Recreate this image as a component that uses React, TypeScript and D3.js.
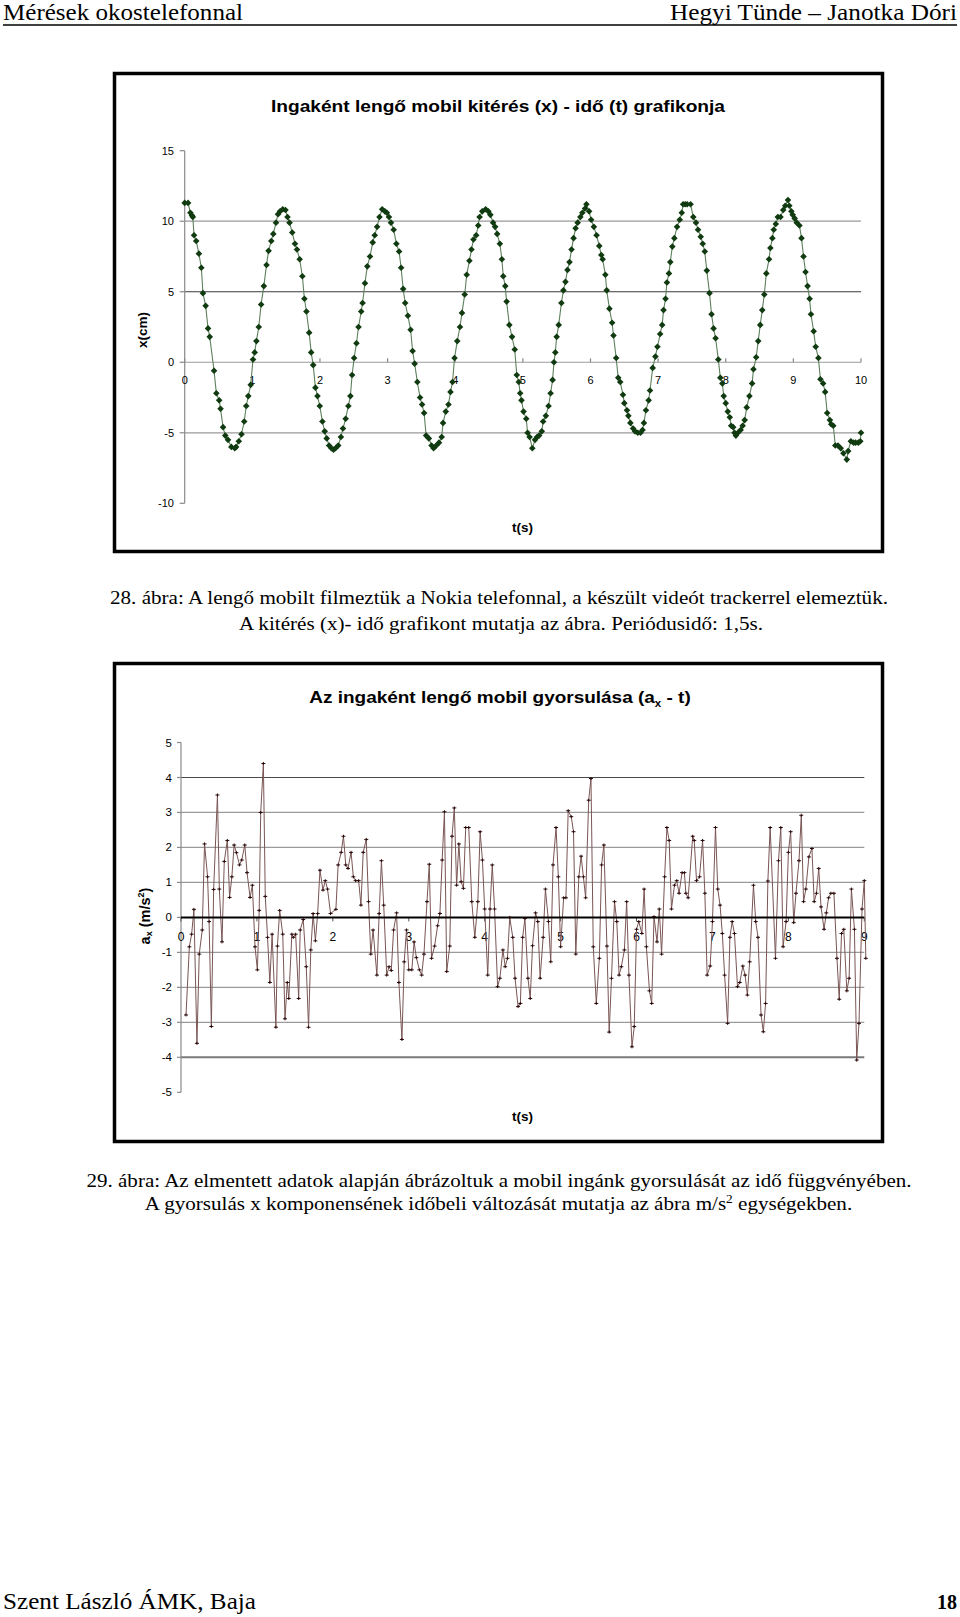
import React from 'react';
import * as d3 from 'd3';

// ---- Chart 1: displacement x (cm) vs time t (s) ----
const positionData: [number, number][] = [
  [0,11.3],[0.05,11.3],[0.084,10.6],[0.108,10.4],[0.12,10.3],[0.138,9.0],[0.17,8.6],[0.21,7.7],[0.246,6.7],[0.27,4.9],
  [0.31,4.0],[0.345,2.4],[0.37,1.8],[0.434,-0.6],[0.468,-2.2],[0.51,-2.7],[0.53,-3.3],[0.567,-4.6],[0.6,-5.2],[0.64,-5.5],
  [0.69,-6.0],[0.74,-6.1],[0.76,-6.0],[0.8,-5.6],[0.84,-5.1],[0.88,-4.2],[0.91,-3.1],[0.94,-2.4],[0.976,-1.6],[1.01,0.2],
  [1.035,0.7],[1.06,1.5],[1.095,2.5],[1.13,4.1],[1.17,5.4],[1.21,6.9],[1.24,7.9],[1.28,8.6],[1.31,9.1],[1.35,9.9],
  [1.38,10.5],[1.41,10.7],[1.45,10.85],[1.49,10.8],[1.52,10.3],[1.55,9.9],[1.59,9.2],[1.63,8.4],[1.66,8.0],[1.7,7.3],
  [1.74,6.1],[1.77,4.5],[1.8,3.6],[1.84,2.1],[1.87,0.7],[1.9,-0.2],[1.933,-1.8],[1.963,-2.4],[1.997,-3.1],[2.036,-4.2],
  [2.07,-4.9],[2.1,-5.4],[2.135,-5.9],[2.17,-6.1],[2.2,-6.2],[2.23,-6.1],[2.27,-5.9],[2.31,-5.3],[2.34,-4.7],[2.38,-4.0],
  [2.42,-3.1],[2.45,-2.4],[2.475,-0.9],[2.505,0.3],[2.54,1.35],[2.57,2.5],[2.61,3.6],[2.63,4.2],[2.665,5.6],[2.7,6.8],
  [2.74,7.5],[2.78,8.5],[2.81,9.0],[2.845,9.6],[2.88,10.3],[2.92,10.85],[2.96,10.7],[2.99,10.6],[3.02,10.3],[3.05,9.9],
  [3.09,9.4],[3.13,8.4],[3.17,7.85],[3.2,6.7],[3.23,5.2],[3.26,4.2],[3.3,3.3],[3.34,2.3],[3.37,0.8],[3.4,-0.1],
  [3.44,-1.4],[3.48,-2.5],[3.51,-3.0],[3.54,-3.6],[3.57,-5.2],[3.61,-5.4],[3.65,-5.9],[3.68,-6.1],[3.72,-5.9],[3.76,-5.7],
  [3.8,-5.3],[3.82,-4.3],[3.86,-3.5],[3.9,-3.0],[3.93,-2.1],[3.96,-1.4],[3.99,0.3],[4.03,1.5],[4.07,2.5],[4.1,3.5],
  [4.14,4.8],[4.17,6.2],[4.21,7.2],[4.24,8.0],[4.27,8.7],[4.31,9.0],[4.34,9.7],[4.36,10.3],[4.4,10.7],[4.45,10.85],
  [4.49,10.7],[4.52,10.45],[4.56,9.9],[4.59,9.6],[4.62,9.1],[4.66,8.4],[4.69,7.3],[4.71,6.1],[4.74,5.4],[4.76,4.3],
  [4.8,2.65],[4.84,1.8],[4.88,0.9],[4.91,-0.9],[4.94,-1.4],[4.96,-2.2],[4.98,-2.7],[5.01,-3.5],[5.05,-4.0],[5.07,-5.0],
  [5.1,-5.3],[5.14,-6.1],[5.18,-5.5],[5.21,-5.3],[5.24,-5.2],[5.28,-4.9],[5.3,-4.2],[5.34,-3.8],[5.38,-3.1],[5.41,-2.2],
  [5.44,-1.25],[5.46,0.0],[5.48,0.7],[5.5,1.8],[5.53,2.65],[5.57,4.2],[5.6,5.1],[5.63,5.7],[5.66,6.55],[5.69,7.1],
  [5.72,8.0],[5.75,8.8],[5.78,9.5],[5.81,9.9],[5.85,10.3],[5.88,10.6],[5.92,10.9],[5.94,11.2],[5.98,10.7],[6.01,10.1],
  [6.05,9.6],[6.09,9.0],[6.13,8.25],[6.16,7.6],[6.18,7.3],[6.22,6.2],[6.24,5.1],[6.28,3.8],[6.32,2.8],[6.34,1.9],
  [6.38,0.3],[6.41,-1.1],[6.44,-1.4],[6.48,-2.3],[6.5,-2.9],[6.54,-3.4],[6.56,-3.8],[6.59,-4.3],[6.63,-4.7],[6.66,-4.9],
  [6.7,-5.0],[6.74,-5.0],[6.77,-4.8],[6.79,-4.3],[6.82,-3.4],[6.86,-2.7],[6.88,-2.0],[6.92,-0.4],[6.96,0.4],[6.99,1.1],
  [7.03,2.0],[7.06,2.65],[7.08,3.7],[7.11,4.5],[7.13,5.65],[7.16,6.3],[7.18,7.1],[7.21,8.2],[7.24,8.8],[7.28,9.6],
  [7.32,10.1],[7.35,10.6],[7.37,11.2],[7.4,11.2],[7.43,11.2],[7.48,11.2],[7.52,10.3],[7.56,9.9],[7.59,9.4],[7.63,8.9],
  [7.66,8.4],[7.69,7.85],[7.72,6.5],[7.76,4.9],[7.79,3.4],[7.82,2.4],[7.85,1.7],[7.89,0.2],[7.92,-1.1],[7.95,-1.5],
  [7.97,-2.4],[8.0,-2.9],[8.03,-3.5],[8.06,-3.9],[8.08,-4.5],[8.11,-4.6],[8.13,-5.0],[8.15,-5.2],[8.18,-5.0],[8.22,-4.8],
  [8.25,-4.5],[8.28,-4.1],[8.31,-3.2],[8.35,-2.4],[8.39,-1.5],[8.41,-0.5],[8.45,0.35],[8.48,1.5],[8.51,2.65],[8.54,3.7],
  [8.57,4.8],[8.6,6.3],[8.64,7.3],[8.66,8.1],[8.69,8.8],[8.71,9.4],[8.74,9.8],[8.77,10.3],[8.81,10.3],[8.85,10.8],
  [8.88,11.1],[8.92,11.5],[8.94,11.1],[8.97,10.7],[8.99,10.45],[9.02,10.2],[9.05,9.9],[9.09,9.7],[9.12,8.8],[9.15,7.5],
  [9.18,6.4],[9.21,5.4],[9.24,4.5],[9.26,3.4],[9.3,2.2],[9.33,1.1],[9.37,0.3],[9.4,-1.2],[9.44,-1.5],[9.47,-2.1],
  [9.5,-3.6],[9.54,-4.1],[9.56,-4.4],[9.59,-4.5],[9.62,-5.9],[9.66,-5.9],[9.7,-6.1],[9.74,-6.45],[9.79,-6.9],[9.81,-6.3],
  [9.85,-5.6],[9.89,-5.7],[9.92,-5.7],[9.96,-5.7],[9.99,-5.6],[10.0,-5.0]
];
const positionYTicks = [15, 10, 5, 0, -5, -10];
const positionXTicks = [0, 1, 2, 3, 4, 5, 6, 7, 8, 9, 10];
const positionGrid = [10, 5, 0, -5];

// ---- Chart 2: acceleration a_x (m/s^2) vs time t (s) ----
const accelData: [number, number][] = [
  [0.066,-2.79],[0.11,-0.84],[0.14,-0.48],[0.17,0.23],[0.21,-3.6],[0.24,-1.05],[0.28,-0.36],[0.31,2.1],[0.35,1.16],[0.37,-0.12],
  [0.4,-3.12],[0.43,0.8],[0.48,3.5],[0.505,0.81],[0.54,-0.7],[0.57,1.6],[0.61,2.2],[0.64,0.57],[0.67,1.16],[0.7,2.07],
  [0.73,1.85],[0.77,1.5],[0.8,1.64],[0.84,2.07],[0.87,1.28],[0.91,0.57],[0.94,0.92],[0.975,-0.84],[1.006,-1.5],[1.03,0.2],
  [1.05,3.0],[1.085,4.4],[1.11,0.6],[1.14,-0.57],[1.17,-1.86],[1.2,-0.48],[1.25,-3.14],[1.27,-0.82],[1.3,0.2],[1.34,-0.48],
  [1.37,-2.9],[1.4,-1.86],[1.42,-2.32],[1.46,-0.48],[1.48,-0.57],[1.51,-0.48],[1.55,-2.32],[1.57,-0.36],[1.61,-0.06],[1.65,-1.41],
  [1.68,-3.14],[1.71,-0.93],[1.74,0.11],[1.77,-0.67],[1.8,0.11],[1.83,1.35],[1.87,0.78],[1.9,1.05],[1.93,0.81],[1.97,0.11],
  [2.04,0.23],[2.07,1.5],[2.11,1.86],[2.14,2.32],[2.17,1.5],[2.2,1.4],[2.24,1.86],[2.27,1.16],[2.3,1.05],[2.34,1.05],
  [2.37,0.35],[2.4,1.86],[2.44,2.23],[2.47,0.45],[2.5,-1.05],[2.53,-0.36],[2.58,-1.65],[2.61,0.11],[2.64,1.62],[2.67,0.35],
  [2.71,-1.65],[2.74,-1.41],[2.77,-1.52],[2.8,-0.36],[2.84,0.13],[2.87,-1.86],[2.91,-3.49],[2.94,-1.27],[2.97,-0.36],[3.0,-1.5],
  [3.04,-1.5],[3.07,-0.7],[3.1,-1.15],[3.14,-1.5],[3.17,-1.65],[3.2,-1.05],[3.24,0.45],[3.27,1.52],[3.3,-1.17],[3.34,-0.82],
  [3.38,-0.24],[3.41,0.11],[3.44,1.64],[3.47,3.02],[3.5,-1.55],[3.54,-0.82],[3.57,2.32],[3.6,3.13],[3.63,0.92],[3.66,2.1],
  [3.69,1.02],[3.72,0.83],[3.75,2.57],[3.79,2.57],[3.83,0.45],[3.87,-0.57],[3.91,0.45],[3.94,2.45],[3.97,1.64],[4.0,0.24],
  [4.04,-1.65],[4.07,0.24],[4.1,1.5],[4.13,0.24],[4.17,-1.98],[4.2,-1.74],[4.24,-0.93],[4.27,-1.41],[4.3,-1.17],[4.33,0.0],
  [4.37,-0.57],[4.4,-1.74],[4.44,-2.55],[4.47,-2.46],[4.5,-0.57],[4.53,-0.03],[4.57,-1.74],[4.6,-2.32],[4.63,-0.81],[4.67,0.13],
  [4.7,-0.12],[4.73,-1.74],[4.77,-0.57],[4.8,0.81],[4.84,-0.12],[4.87,-1.27],[4.9,1.5],[4.94,2.57],[4.97,1.16],[5.0,-0.84],
  [5.04,0.56],[5.07,0.56],[5.1,3.05],[5.14,2.88],[5.17,2.45],[5.2,-1.05],[5.24,1.16],[5.27,1.75],[5.3,1.16],[5.33,0.56],
  [5.37,3.35],[5.4,3.97],[5.43,-0.84],[5.47,-2.46],[5.51,-1.17],[5.54,1.5],[5.57,2.07],[5.61,-0.82],[5.64,-3.28],[5.67,-1.74],
  [5.71,0.45],[5.74,-0.12],[5.77,-1.65],[5.8,-1.41],[5.84,-0.93],[5.87,0.45],[5.9,-1.65],[5.94,-3.7],[5.97,-3.12],[6.0,-0.34],
  [6.03,-0.12],[6.07,-0.46],[6.1,0.81],[6.13,-0.84],[6.17,-2.1],[6.2,-2.46],[6.23,0.02],[6.27,-0.7],[6.3,0.24],[6.33,-1.05],
  [6.37,1.16],[6.4,2.57],[6.43,2.2],[6.46,0.24],[6.5,0.92],[6.53,1.05],[6.56,0.69],[6.6,1.28],[6.63,1.28],[6.65,0.69],
  [6.68,0.56],[6.74,2.32],[6.76,2.2],[6.79,1.05],[6.83,1.16],[6.87,2.2],[6.9,0.69],[6.93,-1.65],[6.97,-1.39],[7.0,-0.12],
  [7.04,2.57],[7.07,0.81],[7.1,0.35],[7.13,-0.46],[7.16,-1.65],[7.2,-3.03],[7.23,-0.57],[7.26,-0.12],[7.29,-0.46],[7.33,-1.98],
  [7.36,-1.86],[7.4,-1.39],[7.43,-1.65],[7.46,-2.22],[7.49,-1.27],[7.54,0.92],[7.57,-0.12],[7.6,-0.57],[7.64,-2.79],[7.67,-3.27],
  [7.7,-2.46],[7.73,1.04],[7.76,2.57],[7.83,-1.17],[7.87,1.62],[7.9,2.57],[7.93,-0.84],[7.97,-0.12],[8.0,1.86],[8.03,2.45],
  [8.07,-0.15],[8.1,0.69],[8.14,1.62],[8.17,2.92],[8.2,0.45],[8.23,0.81],[8.27,1.73],[8.31,1.97],[8.34,0.45],[8.37,0.69],
  [8.4,1.4],[8.43,0.3],[8.47,-0.34],[8.5,0.13],[8.53,0.56],[8.56,0.69],[8.6,0.69],[8.64,-1.17],[8.67,-2.34],[8.7,-0.46],
  [8.73,-0.34],[8.77,-2.1],[8.8,-1.74],[8.83,0.81],[8.87,-0.34],[8.9,-4.08],[8.93,-3.03],[8.97,0.24],[9.0,1.05],[9.02,-1.17]
];
const accelYTicks = [5, 4, 3, 2, 1, 0, -1, -2, -3, -4, -5];
const accelXTicks = [0, 1, 2, 3, 4, 5, 6, 7, 8, 9];
const accelGrid = [4, 3, 2, 1, -1, -2, -3, -4];

const SERIF = "'Liberation Serif', 'Times New Roman', serif";
const SANS = "'Liberation Sans', Arial, sans-serif";

export default function App() {
  // chart 1 scales
  const x1 = d3.scaleLinear().domain([0, 10]).range([184.7, 861]);
  const y1 = d3.scaleLinear().domain([-10, 15]).range([503.3, 150.7]);
  const line1 = d3.line<[number, number]>().x(d => x1(d[0])).y(d => y1(d[1]));

  // chart 2 scales
  const x2 = d3.scaleLinear().domain([0, 9]).range([181, 864.3]);
  const y2 = d3.scaleLinear().domain([-5, 5]).range([1092.3, 742.5]);
  const line2 = d3.line<[number, number]>().x(d => x2(d[0])).y(d => y2(d[1]));

  const grid1Color = (v: number) => (v === 5 ? '#3a3a3a' : '#9a9a9a');
  const grid2Color = (v: number) => (v === 4 ? '#4a4a4a' : v === -4 ? '#7a7a7a' : '#9a9a9a');
  const grid2Width = (v: number) => (v === -4 ? 2 : 1.2);

  return (
    <div style={{ position: 'absolute', left: 0, top: 0, width: 960, height: 1617, background: '#fff' }}>
      <svg width={960} height={1617} viewBox="0 0 960 1617" style={{ display: 'block' }}>
        <rect x={0} y={0} width={960} height={1617} fill="#fff" />

        {/* page header */}
        <text x={3} y={20} fontFamily={SERIF} fontSize={23} textLength={240} lengthAdjust="spacingAndGlyphs">Mérések okostelefonnal</text>
        <text x={957} y={20} textAnchor="end" fontFamily={SERIF} fontSize={23} textLength={287} lengthAdjust="spacingAndGlyphs">Hegyi Tünde – Janotka Dóri</text>
        <line x1={3} x2={957} y1={25} y2={25} stroke="#000" strokeWidth={1.5} />

        {/* ===== Chart 1 ===== */}
        <rect x={114.5} y={73.5} width={768} height={478} fill="#fff" stroke="#000" strokeWidth={3.5} />
        <text x={498} y={112} textAnchor="middle" fontFamily={SANS} fontWeight="bold" fontSize={16.5} textLength={454} lengthAdjust="spacingAndGlyphs">Ingaként lengő mobil kitérés (x) - idő (t) grafikonja</text>

        {positionGrid.map(v => (
          <line key={'g1' + v} x1={x1(0)} x2={x1(10)} y1={y1(v)} y2={y1(v)} stroke={grid1Color(v)} strokeWidth={1.2} />
        ))}
        <line x1={x1(0)} x2={x1(0)} y1={y1(15)} y2={y1(-10)} stroke="#8a8a8a" strokeWidth={1.2} />
        {positionYTicks.map(v => (
          <g key={'yt1' + v}>
            <line x1={x1(0) - 5} x2={x1(0)} y1={y1(v)} y2={y1(v)} stroke="#8a8a8a" strokeWidth={1.2} />
            <text x={174} y={y1(v)} dy="0.35em" textAnchor="end" fontFamily={SANS} fontSize={11}>{v}</text>
          </g>
        ))}
        {positionXTicks.map(v => (
          <g key={'xt1' + v}>
            <line x1={x1(v)} x2={x1(v)} y1={y1(0) - 4} y2={y1(0)} stroke="#8a8a8a" strokeWidth={1.2} />
            <text x={x1(v)} y={y1(0) + 22} textAnchor="middle" fontFamily={SANS} fontSize={11}>{v}</text>
          </g>
        ))}

        <path d={line1(positionData) || ''} fill="none" stroke="#5d805d" strokeWidth={1.1} />
        {positionData.map((d, i) => (
          <path key={'m1' + i} transform={`translate(${x1(d[0])},${y1(d[1])})`} d="M0,-3.3L3.3,0L0,3.3L-3.3,0Z" fill="#103a10" />
        ))}

        <text transform="translate(142.5,330) rotate(-90)" textAnchor="middle" dy="0.35em" fontFamily={SANS} fontWeight="bold" fontSize={13.5}>x(cm)</text>
        <text x={522.5} y={532} textAnchor="middle" fontFamily={SANS} fontWeight="bold" fontSize={13.5}>t(s)</text>

        {/* caption 1 */}
        <text x={499} y={604} textAnchor="middle" fontFamily={SERIF} fontSize={19} textLength={778} lengthAdjust="spacingAndGlyphs">28. ábra: A lengő mobilt filmeztük a Nokia telefonnal, a készült videót trackerrel elemeztük.</text>
        <text x={501} y={630} textAnchor="middle" fontFamily={SERIF} fontSize={19} textLength={524} lengthAdjust="spacingAndGlyphs">A kitérés (x)- idő grafikont mutatja az ábra. Periódusidő: 1,5s.</text>

        {/* ===== Chart 2 ===== */}
        <rect x={114.5} y={663.5} width={768} height={478} fill="#fff" stroke="#000" strokeWidth={3.5} />
        <g transform="translate(500,703) scale(1.15,1)">
          <text x={0} y={0} textAnchor="middle" fontFamily={SANS} fontWeight="bold" fontSize={16.5}>
            Az ingaként lengő mobil gyorsulása (a<tspan fontSize={10} dy={4}>x</tspan><tspan dy={-4}> - t)</tspan>
          </text>
        </g>

        {accelGrid.map(v => (
          <line key={'g2' + v} x1={x2(0)} x2={x2(9)} y1={y2(v)} y2={y2(v)} stroke={grid2Color(v)} strokeWidth={grid2Width(v)} />
        ))}
        <line x1={x2(0)} x2={x2(0)} y1={y2(5)} y2={y2(-5)} stroke="#8a8a8a" strokeWidth={1.2} />
        {accelYTicks.map(v => (
          <g key={'yt2' + v}>
            <line x1={x2(0) - 4} x2={x2(0)} y1={y2(v)} y2={y2(v)} stroke="#8a8a8a" strokeWidth={1.2} />
            <text x={172} y={y2(v)} dy="0.35em" textAnchor="end" fontFamily={SANS} fontSize={11.5}>{v}</text>
          </g>
        ))}
        {accelXTicks.map(v => (
          <g key={'xt2' + v}>
            <line x1={x2(v)} x2={x2(v)} y1={y2(0)} y2={y2(0) + 4} stroke="#555" strokeWidth={1} />
            <text x={x2(v)} y={y2(0) + 24} textAnchor="middle" fontFamily={SANS} fontSize={12}>{v}</text>
          </g>
        ))}

        <path d={line2(accelData) || ''} fill="none" stroke="#7a5555" strokeWidth={1} />
        <line x1={x2(0)} x2={x2(9)} y1={y2(0)} y2={y2(0)} stroke="#000" strokeWidth={2} />
        {accelData.map((d, i) => (
          <path key={'m2' + i} transform={`translate(${x2(d[0])},${y2(d[1])})`} d="M-2,0H2M0,-1.5V1.5" stroke="#2a0808" strokeWidth={1} fill="none" />
        ))}

        <text transform="translate(145,916) rotate(-90)" textAnchor="middle" dy="0.35em" fontFamily={SANS} fontWeight="bold" fontSize={14.5}>
          a<tspan fontSize={9} dy={2}>x</tspan><tspan dy={-2}> (m/s</tspan><tspan fontSize={9} dy={-6}>2</tspan><tspan dy={6}>)</tspan>
        </text>
        <text x={522.5} y={1121} textAnchor="middle" fontFamily={SANS} fontWeight="bold" fontSize={13.5}>t(s)</text>

        {/* caption 2 */}
        <text x={499} y={1187} textAnchor="middle" fontFamily={SERIF} fontSize={19} textLength={825} lengthAdjust="spacingAndGlyphs">29. ábra: Az elmentett adatok alapján ábrázoltuk a mobil ingánk gyorsulását az idő függvényében.</text>
        <g transform="translate(498.5,1210) scale(1.11,1)">
          <text x={0} y={0} textAnchor="middle" fontFamily={SERIF} fontSize={19}>
            A gyorsulás x komponensének időbeli változását mutatja az ábra m/s<tspan fontSize={12} dy={-7}>2</tspan><tspan dy={7}> egységekben.</tspan>
          </text>
        </g>

        {/* footer */}
        <text x={3} y={1609} fontFamily={SERIF} fontSize={23} textLength={253} lengthAdjust="spacingAndGlyphs">Szent László ÁMK, Baja</text>
        <text x={957} y={1609} textAnchor="end" fontFamily={SERIF} fontWeight="bold" fontSize={20}>18</text>
      </svg>
    </div>
  );
}
